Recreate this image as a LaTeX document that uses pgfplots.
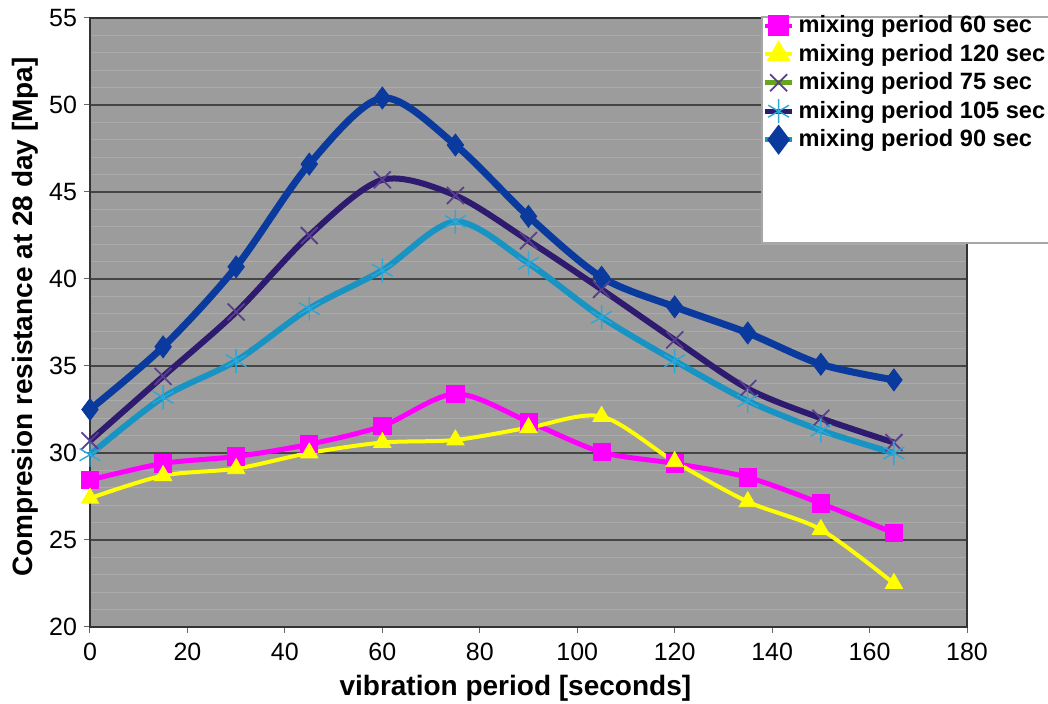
\documentclass[border=0pt]{standalone}
\usepackage{fontspec}
\setmainfont{Liberation Sans}
\usepackage{pgfplots}
\pgfplotsset{compat=1.18}
\usetikzlibrary{calc}

\definecolor{plotbg}{HTML}{9C9C9C}
\definecolor{majgrid}{HTML}{454545}
\definecolor{mingrid}{HTML}{ABABAB}
\definecolor{cMag}{HTML}{FF00FF}
\definecolor{cYel}{HTML}{FFFF00}
\definecolor{cPur}{HTML}{2E1A6E}
\definecolor{cPurMark}{HTML}{5B3F8F}
\definecolor{cCya}{HTML}{1793C4}
\definecolor{cCyaMark}{HTML}{2AA8D8}
\definecolor{cBlu}{HTML}{0A3A9E}
\definecolor{cGrn}{HTML}{66A61E}

\begin{document}
\begin{tikzpicture}
\begin{axis}[
  name=ax,
  scale only axis,
  width=438.5pt, height=304.5pt,
  xmin=0, xmax=180, ymin=20, ymax=55,
  xtick={0,20,...,180},
  ytick={20,25,...,55},
  minor y tick num=4,
  ymajorgrids, yminorgrids,
  major grid style={draw=majgrid, line width=1pt},
  minor grid style={draw=mingrid, line width=0.6pt},
  axis line style={draw=black!80, line width=1pt},
  tick style={draw=black!60, line width=0.5pt},
  tick align=outside, tick pos=left,
  major tick length=3pt, minor tick length=0pt,
  axis background/.style={fill=plotbg},
  clip=false,
  /pgf/number format/assume math mode=true,
  tick label style={font=\fontsize{12.5}{14}\selectfont},
  xticklabel style={yshift=-1.5pt},
  label style={font=\bfseries\fontsize{14}{16}\selectfont},
  xlabel={vibration period [seconds]},
  ylabel={Compresion resistance at 28 day [Mpa]},
  xlabel style={at={(axis description cs:0.485,-0.1002)}, anchor=center},
  ylabel style={at={(axis description cs:-0.0741,0.509)}, anchor=center},
  legend style={at={(axis description cs:0.7665,1.011)}, anchor=north west,
    draw=none, fill=none, inner sep=0pt,
    font=\bfseries\fontsize{11.8}{13}\selectfont,
    row sep=0.2pt, cells={anchor=west},
    /tikz/every even column/.append style={column sep=2.5pt}},
  legend image code/.code={\draw[mark repeat=2,mark phase=2,#1]
    plot coordinates {(0pt,0pt) (6.75pt,0pt) (13.5pt,0pt)};},
  every axis plot/.append style={smooth},
]

% white legend panel
\draw[draw=gray!70, fill=white, line width=0.8pt]
  (axis description cs:0.766,1.0016) rectangle (axis description cs:1.12,0.6305);

% mixing period 60 sec
\addplot[color=cMag, line width=2.5pt, mark=square*, mark size=4.3pt,
  mark options={fill=cMag, draw=cMag, line width=0.4pt}, forget plot] coordinates {
  (0,28.45) (15,29.4) (30,29.8) (45,30.5) (60,31.55) (75,33.4)
  (90,31.8) (105,30.05) (120,29.4) (135,28.6) (150,27.1) (165,25.4)};

% mixing period 120 sec
\addplot[color=cYel, line width=2pt, mark=triangle*, mark size=5pt,
  mark options={fill=cYel, draw=cYel, line width=0.4pt}, forget plot] coordinates {
  (0,27.4) (15,28.7) (30,29.1) (45,30.0) (60,30.6) (75,30.75)
  (90,31.45) (105,32.1) (120,29.5) (135,27.2) (150,25.6) (165,22.5)};

% mixing period 75 sec
\addplot[color=cPur, line width=3pt, mark=x, mark size=6pt,
  mark options={draw=cPurMark, line width=0.9pt}, forget plot] coordinates {
  (0,30.7) (15,34.4) (30,38.1) (45,42.5) (60,45.7) (75,44.8)
  (90,42.2) (105,39.4) (120,36.5) (135,33.7) (150,32.0) (165,30.6)};

% mixing period 105 sec
\addplot[color=cCya, line width=3pt, mark=asterisk, mark size=6pt,
  mark options={draw=cCyaMark, line width=0.7pt}, forget plot] coordinates {
  (0,29.9) (15,33.2) (30,35.3) (45,38.3) (60,40.5) (75,43.3)
  (90,40.9) (105,37.8) (120,35.3) (135,33.0) (150,31.3) (165,30.0)};

% mixing period 90 sec
\addplot[color=cBlu, line width=3.5pt, mark=diamond*, mark size=5.5pt,
  mark options={fill=cBlu, draw=cBlu, line width=0.4pt}, forget plot] coordinates {
  (0,32.5) (15,36.1) (30,40.7) (45,46.6) (60,50.4) (75,47.7)
  (90,43.6) (105,40.1) (120,38.4) (135,36.9) (150,35.1) (165,34.2)};

% legend entries
\addlegendimage{color=cMag, line width=2pt, mark=square*, mark size=4.3pt, mark options={fill=cMag}}
\addlegendentry{mixing period 60 sec}
\addlegendimage{color=cYel, line width=2pt, mark=triangle*, mark size=5pt, mark options={fill=cYel}}
\addlegendentry{mixing period 120 sec}
\addlegendimage{color=cGrn, line width=2.5pt, mark=x, mark size=6pt, mark options={draw=cPurMark, line width=0.9pt}}
\addlegendentry{mixing period 75 sec}
\addlegendimage{color=cPur, line width=2.5pt, mark=asterisk, mark size=6pt, mark options={draw=cCyaMark, line width=0.7pt}}
\addlegendentry{mixing period 105 sec}
\addlegendimage{color=cCya, line width=2.5pt, mark=diamond*, mark size=5.5pt, mark options={fill=cBlu, draw=cBlu}}
\addlegendentry{mixing period 90 sec}
\end{axis}
\pgfresetboundingbox
\path ($(ax.south west)+(-45pt,-38.5pt)$) rectangle ($(ax.north east)+(40.5pt,9pt)$);
\end{tikzpicture}
\end{document}
